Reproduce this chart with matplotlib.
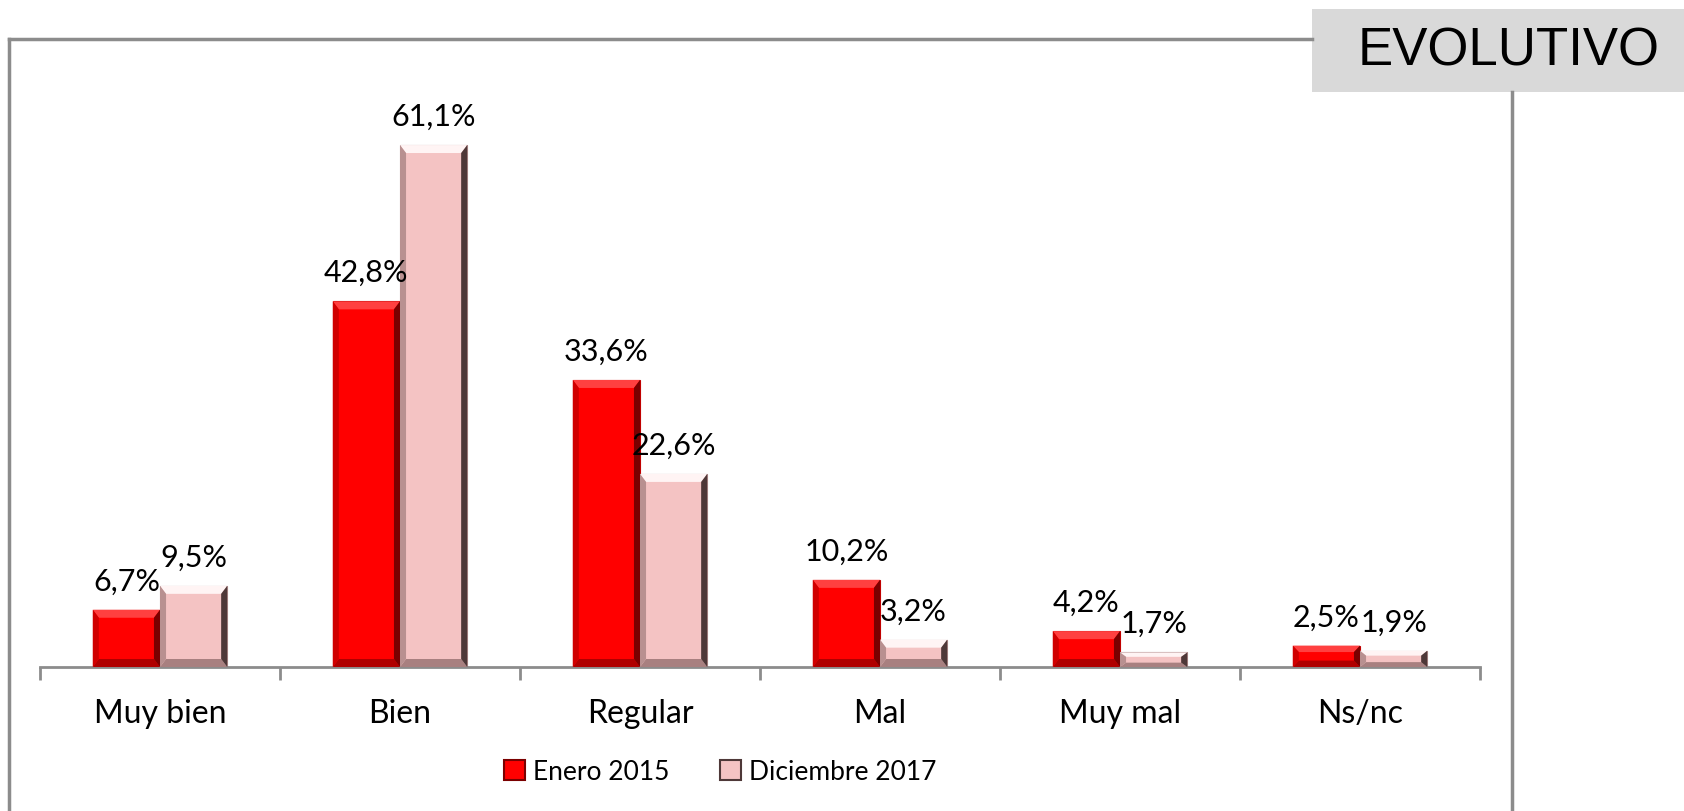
import matplotlib
matplotlib.use("Agg")
import numpy as np
from matplotlib import pyplot as plt
from matplotlib.patches import Polygon, Rectangle, Patch
from matplotlib.lines import Line2D

categories = ["Muy bien", "Bien", "Regular", "Mal", "Muy mal", "Ns/nc"]
enero_2015 = [6.7, 42.8, 33.6, 10.2, 4.2, 2.5]
diciembre_2017 = [9.5, 61.1, 22.6, 3.2, 1.7, 1.9]
series_names = ["Enero 2015", "Diciembre 2017"]

plt.rcParams["font.family"] = ["Lato", "DejaVu Sans"]

RED = {"face": "#FF0000", "top": "#FF4040", "left": "#D00000",
       "right": "#7A0000", "bottom": "#B00000", "edge": "#C00000"}
PINK = {"face": "#F4C3C3", "top": "#FFF4F4", "left": "#B89090",
        "right": "#4E3838", "bottom": "#A88080", "edge": "#B08A8A"}
AXIS_GREY = "#8C8C8C"


def bevel(ax, bars, style, px_per_unit):
    # fake the bevelled "3D" look of the bars with four trapezoids
    for b in bars:
        x0, y0 = b.get_x(), b.get_y()
        w, h = b.get_width(), b.get_height()
        x1, y1 = x0 + w, y0 + h
        dx = w * 0.09
        dy = min(8 / px_per_unit, h * 0.3)
        pieces = [
            ([(x0, y1), (x1, y1), (x1 - dx, y1 - dy), (x0 + dx, y1 - dy)], "top"),
            ([(x0, y0), (x1, y0), (x1 - dx, y0 + dy), (x0 + dx, y0 + dy)], "bottom"),
            ([(x0, y0), (x0 + dx, y0 + dy), (x0 + dx, y1 - dy), (x0, y1)], "left"),
            ([(x1, y0), (x1, y1), (x1 - dx, y1 - dy), (x1 - dx, y0 + dy)], "right"),
        ]
        for pts, key in pieces:
            ax.add_patch(Polygon(pts, closed=True, facecolor=style[key],
                                 edgecolor="none", zorder=3))


fig = plt.figure(figsize=(16.84, 8.12), dpi=100)
ax = fig.add_axes([40 / 1684, 144 / 812, 1440 / 1684, 598 / 812])

x = np.arange(len(categories))
w = 0.28
ymax = 70
px_per_unit = 598 / ymax

red_bars = ax.bar(x - w / 2, enero_2015, w, color=RED["face"],
                  edgecolor=RED["edge"], lw=0.8, zorder=2)
pink_bars = ax.bar(x + w / 2, diciembre_2017, w, color=PINK["face"],
                   edgecolor=PINK["edge"], lw=0.8, zorder=2)
bevel(ax, red_bars, RED, px_per_unit)
bevel(ax, pink_bars, PINK, px_per_unit)

for bars, vals in ((red_bars, enero_2015), (pink_bars, diciembre_2017)):
    for b, v in zip(bars, vals):
        ax.annotate(f"{v:.1f}%".replace(".", ","),
                    (b.get_x() + b.get_width() / 2, v),
                    xytext=(0, 11), textcoords="offset points",
                    ha="center", va="bottom", fontsize=22, color="black")

ax.set_xlim(-0.5, len(categories) - 0.5)
ax.set_ylim(0, ymax)
for s in ("top", "right", "left"):
    ax.spines[s].set_visible(False)
ax.spines["bottom"].set_color(AXIS_GREY)
ax.spines["bottom"].set_linewidth(2)
ax.set_yticks([])
ax.set_xticks(x)
ax.set_xticklabels(categories, fontsize=23)
ax.tick_params(axis="x", which="major", length=0, pad=22)
ax.set_xticks(np.arange(len(categories) + 1) - 0.5, minor=True)
ax.tick_params(axis="x", which="minor", length=9, width=2, color=AXIS_GREY)

handles = [Patch(facecolor=RED["face"], edgecolor=RED["right"], lw=1.5),
           Patch(facecolor=PINK["face"], edgecolor=PINK["right"], lw=1.5)]
fig.legend(handles, series_names, loc="center", ncol=2,
           bbox_to_anchor=(720 / 1684, 1 - 773 / 812), frameon=False,
           fontsize=19, handlelength=0.8, handleheight=0.8,
           handletextpad=0.3, columnspacing=1.9)

# outer frame and the title tab in the top right corner
fh, fw = 812, 1684
frame = dict(color=AXIS_GREY, lw=2.5, transform=fig.transFigure)
fig.add_artist(Line2D([9 / fw, 9 / fw], [0, 1 - 40 / fh], **frame))
fig.add_artist(Line2D([9 / fw, 1312 / fw], [1 - 40 / fh, 1 - 40 / fh], **frame))
fig.add_artist(Line2D([1512 / fw, 1512 / fw], [0, 1 - 93 / fh], **frame))
fig.add_artist(Rectangle((1312 / fw, 1 - 93 / fh), 372 / fw, 83 / fh,
                         facecolor="#D9D9D9", edgecolor="none",
                         transform=fig.transFigure))
fig.text(1509 / fw, 1 - 51 / fh, "EVOLUTIVO", ha="center", va="center",
         fontsize=38, family=["Liberation Sans", "DejaVu Sans"])

fig.savefig("out.png", dpi=100)
